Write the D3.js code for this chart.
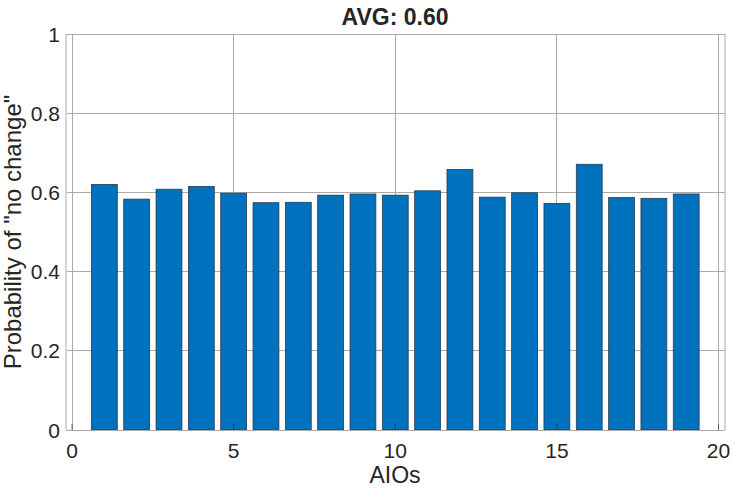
<!DOCTYPE html>
<html><head><meta charset="utf-8">
<script src="https://cdn.jsdelivr.net/npm/d3@7"></script>
<style>body{margin:0;background:#fff}svg{display:block}text{font-family:"Liberation Sans",Arial,Helvetica,sans-serif;fill:#262626}</style>
</head><body><svg id="c" width="733" height="488"></svg>
<script>
const categories = d3.range(1, 20);
const values = [0.620,0.583,0.608,0.615,0.598,0.574,0.575,0.593,0.596,0.593,0.604,0.658,0.588,0.599,0.572,0.671,0.587,0.585,0.596];
const xTicks = [0,5,10,15,20];
const yTicks = [0,0.2,0.4,0.6,0.8,1];
const yTickLabels = ["0","0.2","0.4","0.6","0.8","1"];
const titleText = "AVG: 0.60";
const xLabel = "AIOs";
const yLabel = 'Probability of "no change"';

const svg = d3.select("#c");
const L = 66, R = 725, T = 34, B = 430;
const x = d3.scaleLinear().domain([-0.186, 20.2]).range([L, R]);
const y = d3.scaleLinear().domain([0, 1]).range([B, T]);

// grid
svg.append("g").selectAll("line").data(xTicks).join("line")
  .attr("x1", d => x(d)).attr("x2", d => x(d)).attr("y1", T).attr("y2", B)
  .attr("stroke", "#aaaaaa").attr("stroke-width", 1).attr("shape-rendering","crispEdges");
svg.append("g").selectAll("line").data(yTicks).join("line")
  .attr("x1", L).attr("x2", R).attr("y1", d => y(d)).attr("y2", d => y(d))
  .attr("stroke", "#aaaaaa").attr("stroke-width", 1).attr("shape-rendering","crispEdges");

// bars
const bw = x(0.8) - x(0);
svg.append("g").selectAll("rect").data(values).join("rect")
  .attr("x", (d, i) => x(categories[i]) - bw / 2)
  .attr("y", d => y(d))
  .attr("width", bw)
  .attr("height", d => y(0) - y(d))
  .attr("fill", "#0072BD")
  .attr("stroke", "#2a3a4a").attr("stroke-width", 0.8);

// box
svg.append("line").attr("x1", L).attr("x2", L).attr("y1", T).attr("y2", B).attr("stroke", "#d4d4d4").attr("stroke-width", 2);
svg.append("line").attr("x1", R).attr("x2", R).attr("y1", T).attr("y2", B).attr("stroke", "#aaaaaa").attr("stroke-width", 1);
svg.append("line").attr("x1", L).attr("x2", R).attr("y1", B + 0.5).attr("y2", B + 0.5).attr("stroke", "#aaaaaa").attr("stroke-width", 1);
svg.append("line").attr("x1", L).attr("x2", R).attr("y1", T + 0.5).attr("y2", T + 0.5).attr("stroke", "#aaaaaa").attr("stroke-width", 1);

// inner ticks
svg.append("g").selectAll("line").data(xTicks).join("line")
  .attr("x1", d => x(d)).attr("x2", d => x(d)).attr("y1", B).attr("y2", B - 6)
  .attr("stroke", "#262626").attr("stroke-opacity", 0.6).attr("stroke-width", 1);

// tick labels
svg.append("g").selectAll("text").data(xTicks).join("text")
  .attr("x", d => x(d)).attr("y", 458).attr("text-anchor", "middle")
  .attr("font-size", 21).text(d => d);
svg.append("g").selectAll("text").data(yTicks).join("text")
  .attr("x", 60).attr("y", d => y(d) + 7.5).attr("text-anchor", "end")
  .attr("font-size", 21).text((d, i) => yTickLabels[i]);

// title and labels
svg.append("text").attr("x", 395).attr("y", 25).attr("text-anchor", "middle")
  .attr("font-size", 23).attr("font-weight", "bold").text(titleText);
svg.append("text").attr("x", 395).attr("y", 483).attr("text-anchor", "middle")
  .attr("font-size", 23).text(xLabel);
svg.append("text").attr("transform", `translate(21,${(T + B) / 2}) rotate(-90)`)
  .attr("text-anchor", "middle").attr("font-size", 24).text(yLabel);
</script></body></html>
